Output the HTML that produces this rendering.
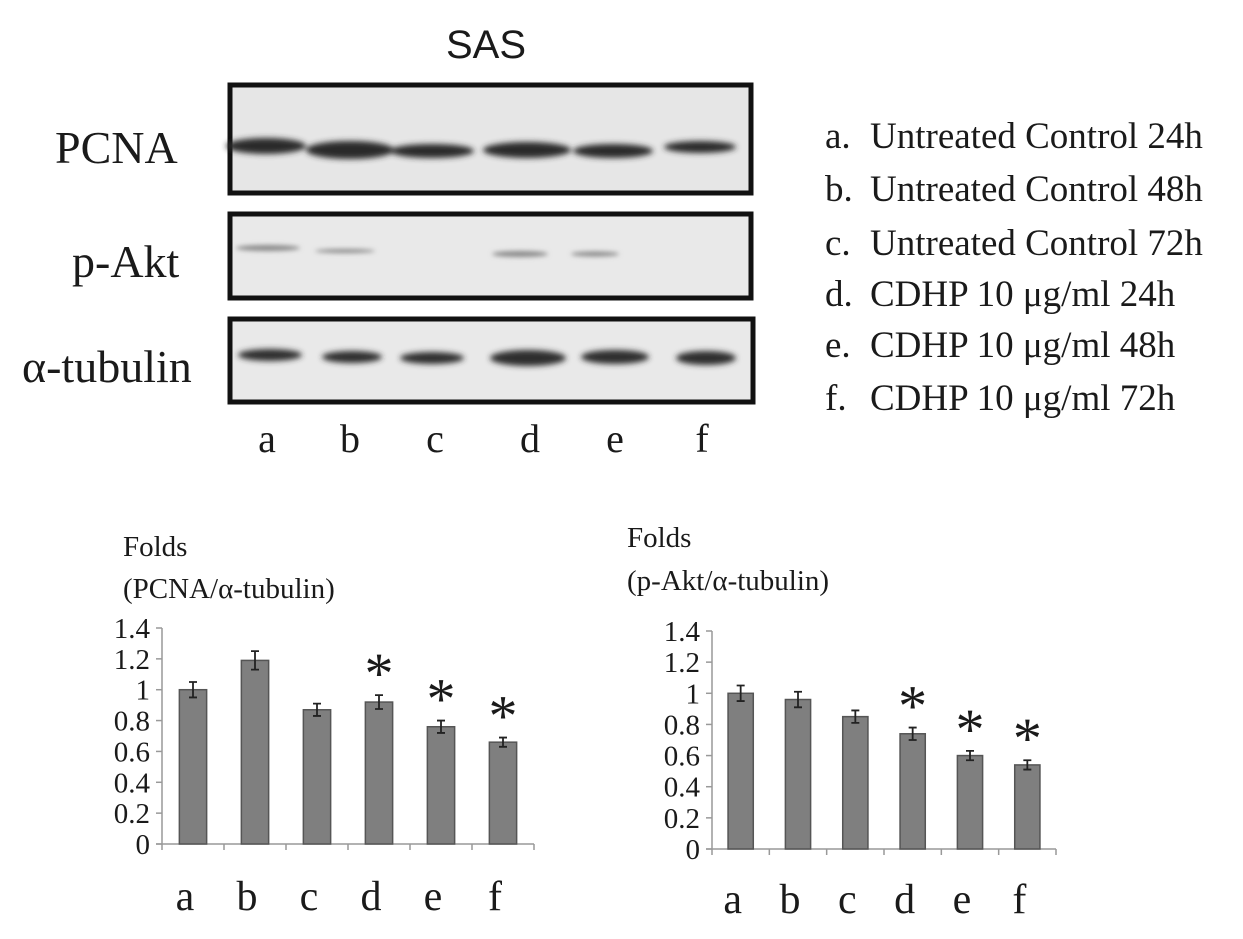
<!DOCTYPE html>
<html><head><meta charset="utf-8"><style>
html,body{margin:0;padding:0;background:#fff;}
svg{display:block;}
text{font-family:"Liberation Serif",serif;fill:#1a1a1a;}
</style></head><body>
<svg id="fig" width="1243" height="939" viewBox="0 0 1243 939" xmlns="http://www.w3.org/2000/svg">
<defs>
<filter id="blur" x="-20%" y="-200%" width="140%" height="500%"><feGaussianBlur stdDeviation="3"/></filter>
<filter id="blur2" x="-20%" y="-200%" width="140%" height="500%"><feGaussianBlur stdDeviation="2.5"/></filter>
</defs>
<text x="486" y="58" text-anchor="middle" font-size="40" style="font-family:'Liberation Sans',sans-serif">SAS</text>

<g>
<rect x="230" y="85" width="521" height="108" fill="#e6e6e6" stroke="#111" stroke-width="5"/>
<g filter="url(#blur)" fill="#2b2b2b">
<ellipse cx="266" cy="146" rx="40" ry="8"/><ellipse cx="350" cy="150" rx="44" ry="9"/><ellipse cx="432" cy="151" rx="42" ry="7"/>
<ellipse cx="527" cy="150" rx="44" ry="8"/><ellipse cx="613" cy="151" rx="40" ry="7"/><ellipse cx="700" cy="147" rx="36" ry="6"/>
</g></g>
<text x="55" y="163" font-size="46">PCNA</text>

<g>
<rect x="230" y="214" width="521" height="84" fill="#e9e9e9" stroke="#111" stroke-width="5"/>
<g filter="url(#blur2)" fill="#8a8a8a">
<ellipse cx="268" cy="248" rx="32" ry="3"/><ellipse cx="345" cy="251" rx="30" ry="2"/>
<ellipse cx="520" cy="254" rx="28" ry="3"/><ellipse cx="595" cy="254" rx="24" ry="2.5"/>
</g></g>
<text x="72" y="277" font-size="46">p-Akt</text>

<g>
<rect x="230" y="319" width="523" height="83" fill="#e9e9e9" stroke="#111" stroke-width="5"/>
<g filter="url(#blur)" fill="#2e2e2e">
<ellipse cx="270" cy="355" rx="32" ry="6"/><ellipse cx="352" cy="357" rx="30" ry="6"/><ellipse cx="432" cy="358" rx="32" ry="6"/>
<ellipse cx="528" cy="358" rx="38" ry="8"/><ellipse cx="615" cy="357" rx="34" ry="7"/><ellipse cx="706" cy="358" rx="30" ry="7"/>
</g></g>
<text x="22" y="382" font-size="46">α-tubulin</text>

<g font-size="40" text-anchor="middle">
<text x="267" y="452">a</text><text x="350" y="452">b</text><text x="435" y="452">c</text>
<text x="530" y="452">d</text><text x="615" y="452">e</text><text x="702" y="452">f</text>
</g>

<g font-size="37">
<text x="825" y="148">a.</text><text x="870" y="148">Untreated Control 24h</text>
<text x="825" y="201">b.</text><text x="870" y="201">Untreated Control 48h</text>
<text x="825" y="255">c.</text><text x="870" y="255">Untreated Control 72h</text>
<text x="825" y="306">d.</text><text x="870" y="306">CDHP 10 μg/ml 24h</text>
<text x="825" y="357">e.</text><text x="870" y="357">CDHP 10 μg/ml 48h</text>
<text x="825" y="410">f.</text><text x="870" y="410">CDHP 10 μg/ml 72h</text>
</g>

<text x="123" y="556" font-size="29">Folds</text>
<text x="123" y="598" font-size="29">(PCNA/α-tubulin)</text>
<text x="627" y="547" font-size="29">Folds</text>
<text x="627" y="590" font-size="29">(p-Akt/α-tubulin)</text>
<g id="charts"></g>
</svg>
<script>
const categories = ['a','b','c','d','e','f'];
const pcnaValues = [1.0, 1.19, 0.87, 0.92, 0.76, 0.66];
const pcnaErrors = [0.05, 0.06, 0.04, 0.045, 0.04, 0.03];
const pcnaSig = [false, false, false, true, true, true];
const aktValues = [1.0, 0.96, 0.85, 0.74, 0.60, 0.54];
const aktErrors = [0.05, 0.05, 0.04, 0.04, 0.03, 0.03];
const aktSig = [false, false, false, true, true, true];
const yTicks = ['0','0.2','0.4','0.6','0.8','1','1.2','1.4'];

const NS = 'http://www.w3.org/2000/svg';
const root = document.getElementById('charts');
function mk(tag, attrs, parent){ const e=document.createElementNS(NS,tag); for(const k in attrs) e.setAttribute(k,attrs[k]); (parent||root).appendChild(e); return e; }

function drawChart(prefix, values, errors, sig, x0, x1, y0, yTop, labelBase){
  const g = mk('g',{});
  
  
  const ymax = 1.4;
  const yS = v => y0 - (v/ymax)*(y0-yTop);
  const bw = (x1-x0)/categories.length;
  const xC = i => x0 + bw*(i+0.5);
  const ya = mk('line',{x1:x0,y1:yTop,x2:x0,y2:y0,stroke:'#999','stroke-width':1.5},g);
  
  
  yTicks.forEach(t=>{
    const v=parseFloat(t), y=yS(v);
    mk('line',{x1:x0-6,y1:y,x2:x0,y2:y,stroke:'#999','stroke-width':1.5},g);
    const tx = mk('text',{x:x0-12,y:y+10,'text-anchor':'end','font-size':29},g);
    tx.textContent=t;
    
    
  });
  const xa = mk('line',{x1:x0-6,y1:y0,x2:x1,y2:y0,stroke:'#999','stroke-width':1.5},g);
  
  
  for(let i=0;i<=categories.length;i++){
    mk('line',{x1:x0+bw*i,y1:y0,x2:x0+bw*i,y2:y0+6,stroke:'#999','stroke-width':1.5},g);
  }
  categories.forEach((c,i)=>{
    const w = bw*0.44, cx=xC(i), top=yS(values[i]);
    const r = mk('rect',{x:cx-w/2,y:top,width:w,height:y0-top,fill:'#7f7f7f',stroke:'#555','stroke-width':1.5},g);
    
    
    const eh=yS(values[i]+errors[i]), el=yS(values[i]-errors[i]);
    const eb = mk('path',{d:`M${cx},${eh}V${el}M${cx-4},${eh}H${cx+4}M${cx-4},${el}H${cx+4}`,stroke:'#222','stroke-width':1.8,fill:'none'},g);
    
    
    if(sig[i]){
      const s = mk('text',{x:cx,y:eh-2,'text-anchor':'middle','font-size':58},g);
      s.textContent='*';
      
      
    }
    const lb = mk('text',{x:cx-8,y:labelBase,'text-anchor':'middle','font-size':42},g);
    lb.textContent=c;
    
    
  });
}
drawChart('pcna', pcnaValues, pcnaErrors, pcnaSig, 162, 534, 844, 628, 910);
drawChart('p-akt', aktValues, aktErrors, aktSig, 712, 1056, 849, 631, 913);
</script>
</body></html>
